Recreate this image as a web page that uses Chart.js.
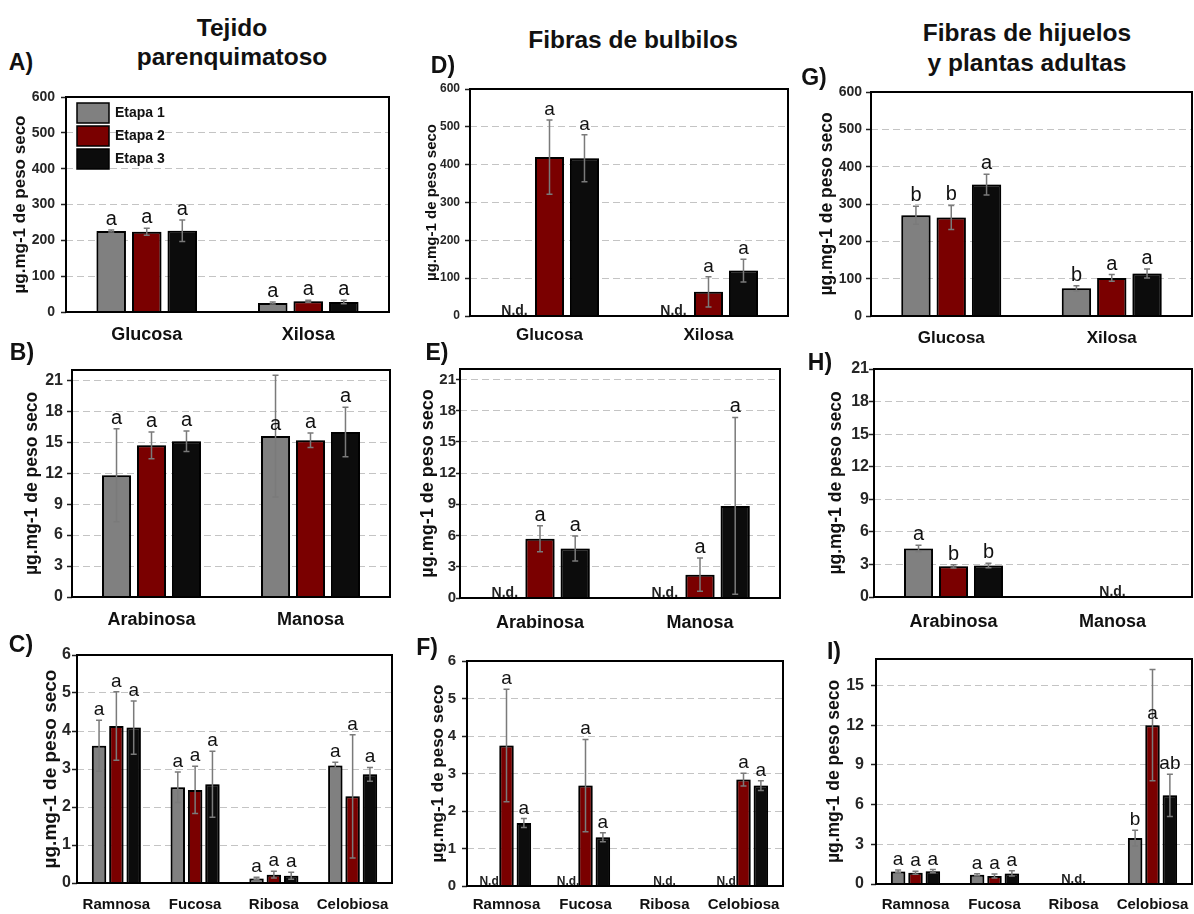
<!DOCTYPE html>
<html>
<head>
<meta charset="utf-8">
<script src="https://cdn.jsdelivr.net/npm/chart.js@4"></script>
<style>
  body { margin: 0; background: #fff; }
  #lienzo { position: relative; width: 1194px; height: 914px; overflow: hidden; font-family: "Liberation Sans", Arial, sans-serif; }
  #lienzo canvas { position: absolute; }
  .txt { position: absolute; font-weight: bold; color: #111; white-space: nowrap; line-height: 1; transform: translate(-50%, -50%); }
</style>
</head>
<body>
<div id="lienzo"></div>
<script>
// Etapas y azúcares
const etapas = ['Etapa 1', 'Etapa 2', 'Etapa 3'];
const coloresEtapa = ['#808080', '#7a0000', '#0c0c0c'];

const azucaresMayores = ['Glucosa', 'Xilosa'];
const azucaresMedios = ['Arabinosa', 'Manosa'];
const azucaresMenores = ['Ramnosa', 'Fucosa', 'Ribosa', 'Celobiosa'];

const ticks600 = [0, 100, 200, 300, 400, 500, 600];
const ticks21 = [0, 3, 6, 9, 12, 15, 18, 21];
const ticks6 = [0, 1, 2, 3, 4, 5, 6];
const ticks15 = [0, 3, 6, 9, 12, 15];

// una fila por etapa (1, 2, 3); null = N.d.
// A) Tejido parenquimatoso
const valoresA = [[226, 25], [224, 30], [227, 28]];
const erroresA = [[3, 3], [10, 3], [30, 5]];
const letrasA = [['a', 'a'], ['a', 'a'], ['a', 'a']];

// B)
const valoresB = [[11.8, 15.6], [14.7, 15.2], [15.1, 16.0]];
const erroresB = [[4.5, 5.9], [1.3, 0.7], [1.0, 2.4]];
const letrasB = [['a', 'a'], ['a', 'a'], ['a', 'a']];
const enBarraB = [[1, 0]]; // [categoria, etapa]: letra junto a la barra

// C)
const valoresC = [[3.61, 2.52, 0.12, 3.09], [4.13, 2.45, 0.22, 2.28], [4.09, 2.6, 0.19, 2.86]];
const erroresC = [[0.67, 0.4, 0.03, 0.09], [0.9, 0.62, 0.09, 1.62], [0.7, 0.87, 0.09, 0.18]];
const letrasC = [['a', 'a', 'a', 'a'], ['a', 'a', 'a', 'a'], ['a', 'a', 'a', 'a']];

// D) Fibras de bulbilos
const valoresD = [[null, null], [420, 64], [417, 120]];
const erroresD = [[0, 0], [98, 40], [62, 30]];
const letrasD = [['', ''], ['a', 'a'], ['a', 'a']];
const ndD = [[0, 0, 'N.d.'], [1, 0, 'N.d.']]; // [categoria, etapa, texto]

// E)
const valoresE = [[null, null], [5.7, 2.24], [4.75, 8.85]];
const erroresE = [[0, 0], [1.25, 1.6], [1.2, 8.5]];
const letrasE = [['', ''], ['a', 'a'], ['a', 'a']];
const ndE = [[0, 0, 'N.d.'], [1, 0, 'N.d.']];

// F)
const valoresF = [[null, null, null, null], [3.75, 2.68, null, 2.84], [1.68, 1.3, null, 2.68]];
const erroresF = [[0, 0, 0, 0], [1.5, 1.23, 0, 0.17], [0.12, 0.12, 0, 0.13]];
const letrasF = [['', '', '', ''], ['a', 'a', '', 'a'], ['a', 'a', '', 'a']];
const ndF = [[0, 0, 'N.d'], [1, 0, 'N.d.'], [2, 1, 'N.d.'], [3, 0, 'N.d']];

// G) Fibras de hijuelos y plantas adultas
const valoresG = [[270, 74], [264, 102], [352, 114]];
const erroresG = [[24, 7], [32, 9], [28, 12]];
const letrasG = [['b', 'b'], ['b', 'a'], ['a', 'a']];

// H)
const valoresH = [[4.46, null], [2.83, null], [2.9, null]];
const erroresH = [[0.3, 0], [0.15, 0], [0.2, 0]];
const letrasH = [['a', ''], ['b', ''], ['b', '']];
const ndH = [[1, 1, 'N.d.']];

// I)
const valoresI = [[0.95, 0.7, null, 3.47], [0.85, 0.6, null, 12.0], [0.97, 0.8, null, 6.7]];
const erroresI = [[0.1, 0.08, 0, 0.6], [0.12, 0.15, 0, 4.2], [0.12, 0.2, 0, 1.6]];
const letrasI = [['a', 'a', '', 'b'], ['a', 'a', '', 'a'], ['a', 'a', '', 'ab']];
const enBarraI = [[3, 1]];
const ndI = [[2, 1, 'N.d.']];

const FUENTE = '"Liberation Sans", Arial, sans-serif';
Chart.defaults.font.family = FUENTE;

// area = [izq, arriba, der, abajo] del recuadro de cada gráfico
const paneles = [
  { cats: azucaresMayores, vals: valoresA, errs: erroresA, letras: letrasA, ticks: ticks600, max: 600,
    area: [66, 97, 389, 312], yW: 56, tickFont: 14, tickGap: 11, titleFont: 17, catFont: 18, catPad: 12, letraFont: 20, leyenda: true },
  { cats: azucaresMedios, vals: valoresB, errs: erroresB, letras: letrasB, ticks: ticks21, max: 22, enBarra: enBarraB,
    area: [72, 370, 390, 597], yW: 50, tickFont: 16, tickGap: 9, titleFont: 17.5, catFont: 18, catPad: 12, letraFont: 20 },
  { cats: azucaresMenores, vals: valoresC, errs: erroresC, letras: letrasC, ticks: ticks6, max: 6,
    area: [77, 655, 392, 883], yW: 38, tickFont: 16, tickGap: 6, titleFont: 19, catFont: 15, catPad: 13, letraFont: 19 },
  { cats: azucaresMayores, vals: valoresD, errs: erroresD, letras: letrasD, ticks: ticks600, max: 600, nd: ndD, ndFont: 14,
    area: [470, 89, 788, 316], yW: 47, tickFont: 12, tickGap: 10, titleFont: 15, catFont: 17, catPad: 9, letraFont: 19 },
  { cats: azucaresMedios, vals: valoresE, errs: erroresE, letras: letrasE, ticks: ticks21, max: 22, nd: ndE, ndFont: 14,
    area: [460, 369, 780, 598], yW: 43, tickFont: 15, tickGap: 4, titleFont: 18, catFont: 18, catPad: 14, letraFont: 20 },
  { cats: azucaresMenores, vals: valoresF, errs: erroresF, letras: letrasF, ticks: ticks6, max: 6, nd: ndF, ndFont: 12,
    area: [467, 661, 783, 886], yW: 39, tickFont: 15, tickGap: 11, titleFont: 17, catFont: 15, catPad: 10, letraFont: 19 },
  { cats: azucaresMayores, vals: valoresG, errs: erroresG, letras: letrasG, ticks: ticks600, max: 600,
    area: [871, 92, 1192, 316], yW: 54, tickFont: 14, tickGap: 9, titleFont: 17.5, catFont: 17, catPad: 12, letraFont: 20 },
  { cats: azucaresMedios, vals: valoresH, errs: erroresH, letras: letrasH, ticks: ticks21, max: 21, nd: ndH, ndFont: 14,
    area: [874, 369, 1192, 597], yW: 48, tickFont: 16, tickGap: 5, titleFont: 17.5, catFont: 18, catPad: 14, letraFont: 20 },
  { cats: azucaresMenores, vals: valoresI, errs: erroresI, letras: letrasI, ticks: ticks15, max: 17, nd: ndI, ndFont: 13, enBarra: enBarraI,
    area: [876, 659, 1192, 884], yW: 52, tickFont: 16, tickGap: 12, titleFont: 17.5, catFont: 15, catPad: 12, letraFont: 19 }
];

// textos sueltos: [texto, centro x, centro y, tamaño]
const textos = [
  ['Tejido', 232, 28, 24.5], ['parenquimatoso', 232, 57, 24.5],
  ['Fibras de bulbilos', 633, 40, 24.5],
  ['Fibras de hijuelos', 1027, 33, 24.5], ['y plantas adultas', 1027, 63, 24.5],
  ['A)', 21, 62, 23], ['B)', 22, 352, 23], ['C)', 21, 644, 23],
  ['D)', 443, 65, 23], ['E)', 437, 352, 23], ['F)', 427, 647, 23],
  ['G)', 814, 77, 23], ['H)', 820, 362, 23], ['I)', 834, 651, 23]
];

function crearExtras(p) {
  return {
    id: 'extras',
    beforeDatasetsDraw(chart) {
      const ctx = chart.ctx;
      ctx.save();
      ctx.shadowColor = 'rgba(0,0,0,0.5)';
      ctx.shadowBlur = 5;
    },
    afterDatasetsDraw(chart) {
      const ctx = chart.ctx;
      ctx.restore();
      const ys = chart.scales.y;
      ctx.save();
      p.vals.forEach((serie, i) => {
        const meta = chart.getDatasetMeta(i);
        serie.forEach((v, j) => {
          if (v == null) return;
          const x = meta.data[j].x;
          const e = p.errs[i][j];
          const yArr = ys.getPixelForValue(v + e);
          const yAb = ys.getPixelForValue(Math.max(v - e, 0));
          ctx.strokeStyle = '#7a7a7a';
          ctx.lineWidth = 1.5;
          ctx.beginPath();
          ctx.moveTo(x, yArr); ctx.lineTo(x, yAb);
          ctx.moveTo(x - 3, yArr); ctx.lineTo(x + 3, yArr);
          ctx.moveTo(x - 3, yAb); ctx.lineTo(x + 3, yAb);
          ctx.stroke();
          const letra = p.letras[i][j];
          if (letra) {
            const enBarra = (p.enBarra || []).some(([c, s]) => c === j && s === i);
            const yL = enBarra ? ys.getPixelForValue(v) - 6 : yArr - 5;
            ctx.fillStyle = '#111';
            ctx.font = p.letraFont + 'px ' + FUENTE;
            ctx.textAlign = 'center';
            ctx.textBaseline = 'alphabetic';
            ctx.fillText(letra, x, yL);
          }
        });
      });
      // N.d.
      (p.nd || []).forEach(([c, s, texto]) => {
        const x = chart.getDatasetMeta(s).data[c].x;
        ctx.fillStyle = '#222';
        ctx.font = 'bold ' + p.ndFont + 'px ' + FUENTE;
        ctx.textAlign = 'center';
        ctx.textBaseline = 'alphabetic';
        ctx.fillText(texto, x, chart.chartArea.bottom - 1);
      });
      ctx.restore();
    },
    afterDraw(chart) {
      const ctx = chart.ctx;
      const a = chart.chartArea;
      ctx.save();
      ctx.strokeStyle = '#000';
      ctx.lineWidth = 2;
      ctx.strokeRect(a.left, a.top, a.right - a.left, a.bottom - a.top);
      if (p.leyenda) {
        chart.data.datasets.forEach((ds, i) => {
          const x = a.left + 11, y = a.top + 6 + i * 23;
          ctx.fillStyle = ds.backgroundColor;
          ctx.fillRect(x, y, 32, 20);
          ctx.lineWidth = 1.5;
          ctx.strokeRect(x, y, 32, 20);
          ctx.fillStyle = '#111';
          ctx.font = 'bold 14px ' + FUENTE;
          ctx.textAlign = 'left';
          ctx.textBaseline = 'middle';
          ctx.fillText(ds.label, x + 38, y + 10);
        });
      }
      ctx.restore();
    }
  };
}

const lienzo = document.getElementById('lienzo');
const padTop = 14, padRight = 6, altoX = 50;

paneles.forEach(p => {
  const [l, t, r, b] = p.area;
  const w = (r - l) + p.yW + padRight;
  const h = (b - t) + padTop + altoX;
  const c = document.createElement('canvas');
  c.width = w; c.height = h;
  c.style.width = w + 'px'; c.style.height = h + 'px';
  c.style.left = (l - p.yW) + 'px';
  c.style.top = (t - padTop) + 'px';
  lienzo.appendChild(c);

  const largoTick = Math.min(5, p.tickGap);

  new Chart(c, {
    type: 'bar',
    data: {
      labels: p.cats,
      datasets: etapas.map((nombre, i) => ({
        label: nombre,
        data: p.vals[i],
        backgroundColor: coloresEtapa[i],
        borderColor: '#000',
        borderWidth: 2,
        categoryPercentage: 0.66,
        barPercentage: 0.83
      }))
    },
    options: {
      responsive: false,
      animation: false,
      devicePixelRatio: 1,
      layout: { padding: { top: padTop, right: padRight, left: 0, bottom: 0 } },
      plugins: { legend: { display: false }, tooltip: { enabled: false } },
      scales: {
        x: {
          grid: { display: false, drawTicks: false },
          border: { display: false },
          ticks: { color: '#111', font: { size: p.catFont, weight: 'bold' }, padding: p.catPad, maxRotation: 0, autoSkip: false },
          afterFit: s => { s.height = altoX; s.paddingLeft = 0; s.paddingRight = 0; }
        },
        y: {
          min: 0,
          max: p.max,
          afterBuildTicks: s => { s.ticks = p.ticks.map(v => ({ value: v })); },
          grid: { color: '#c4c4c4', lineWidth: 1, tickLength: largoTick, tickColor: '#222', tickWidth: 1.5, tickBorderDash: [] },
          border: { display: false, dash: [7, 4] },
          ticks: { color: '#262626', font: { size: p.tickFont, weight: 'bold' }, padding: p.tickGap - largoTick },
          title: { display: true, text: 'µg.mg-1 de peso seco', color: '#111', font: { size: p.titleFont, weight: 'bold' }, padding: 0 },
          afterFit: s => { s.width = p.yW; s.paddingTop = 0; s.paddingBottom = 0; }
        }
      }
    },
    plugins: [crearExtras(p)]
  });
});

textos.forEach(([texto, x, y, size]) => {
  const d = document.createElement('div');
  d.className = 'txt';
  d.textContent = texto;
  d.style.left = x + 'px';
  d.style.top = y + 'px';
  d.style.fontSize = size + 'px';
  lienzo.appendChild(d);
});
</script>
</body>
</html>
